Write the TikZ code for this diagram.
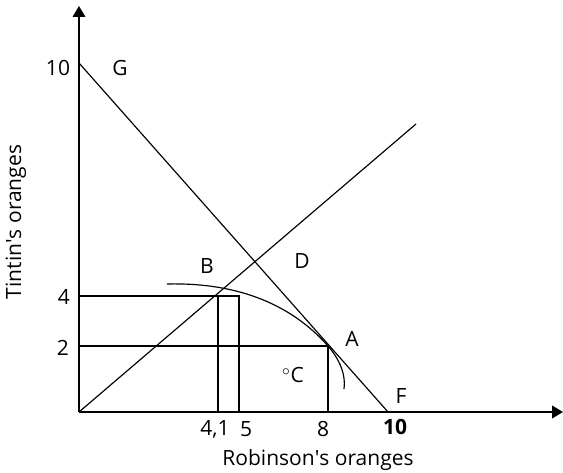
\documentclass[tikz,border=0pt]{standalone}
\usepackage{fontspec}
\setmainfont{Open Sans}
\usetikzlibrary{arrows.meta, positioning}
\tikzset{
  axisline/.style={-{Triangle[width=7.5pt,length=6.5pt]}, line width=0.9pt},
  plotline/.style={line width=0.7pt},
  lbl/.style={font=\fontsize{12.6}{14}\selectfont, inner sep=0pt},
  boldlbl/.style={lbl, font=\fontsize{12.6}{14}\selectfont\bfseries}
}

\begin{document}
\begin{tikzpicture}[x=0.6pt, y=-0.6pt]
  \useasboundingbox (0,0) rectangle (563,473);

  % points of the figure
  \coordinate (O) at (79,412);
  \coordinate (ytop) at (79,6);
  \coordinate (xend) at (563,412);
  \coordinate (G) at (79,63);
  \coordinate (F) at (388,412);
  \coordinate (diag) at (416,124);
  \coordinate (A) at (328,346);
  \coordinate (B) at (218,296);
  \coordinate (y4) at (79,296);
  \coordinate (y2) at (79,346);
  \coordinate (b5) at (239,296);
  \coordinate (x41) at (218,412);
  \coordinate (x5) at (239,412);
  \coordinate (x8) at (328,412);
  \coordinate (arcstart) at (167,284);
  \coordinate (arcend) at (344,389);

  % axes
  \draw[axisline] (O) -- (ytop);
  \draw[axisline] (O) -- (xend);

  % lines
  \draw[plotline] (G) -- (F);
  \draw[plotline] (O) -- (diag);
  \draw[plotline] (y4) -- (b5) -- (x5);
  \draw[plotline] (B) -- (x41);
  \draw[plotline] (y2) -- (A) -- (x8);
  \draw[plotline] (arcstart) .. controls (250,282) and (299,313) .. (A)
        .. controls (340,360) and (346,375) .. (arcend);

  % tick labels
  \node[lbl] (yten) at (58,68) {10};
  \node[lbl] (yfour) at (64,297) {4};
  \node[lbl] (ytwo) at (63,348) {2};
  \node[lbl] (xfourone) at (215,429) {4,1};
  \node[lbl] (xfive) at (246,429) {5};
  \node[lbl] (xeight) at (323,429) {8};
  \node[boldlbl] (xten) at (395,427) {10};

  % point labels
  \node[lbl] (labG) at (120,68) {G};
  \node[lbl] (labB) at (207,266) {B};
  \node[lbl] (labD) at (302,261) {D};
  \node[lbl] (labA) at (352,339) {A};
  \node[lbl] (labC) at (293,375) {$^\circ$C};
  \node[lbl] (labF) at (401,396) {F};

  % axis titles
  \node[lbl] (xtitle) at (318,460) {Robinson\textquotesingle s oranges};
  \node[lbl, rotate=90] (ytitle) at (16,222) {Tintin\textquotesingle s oranges};
\end{tikzpicture}
\end{document}
